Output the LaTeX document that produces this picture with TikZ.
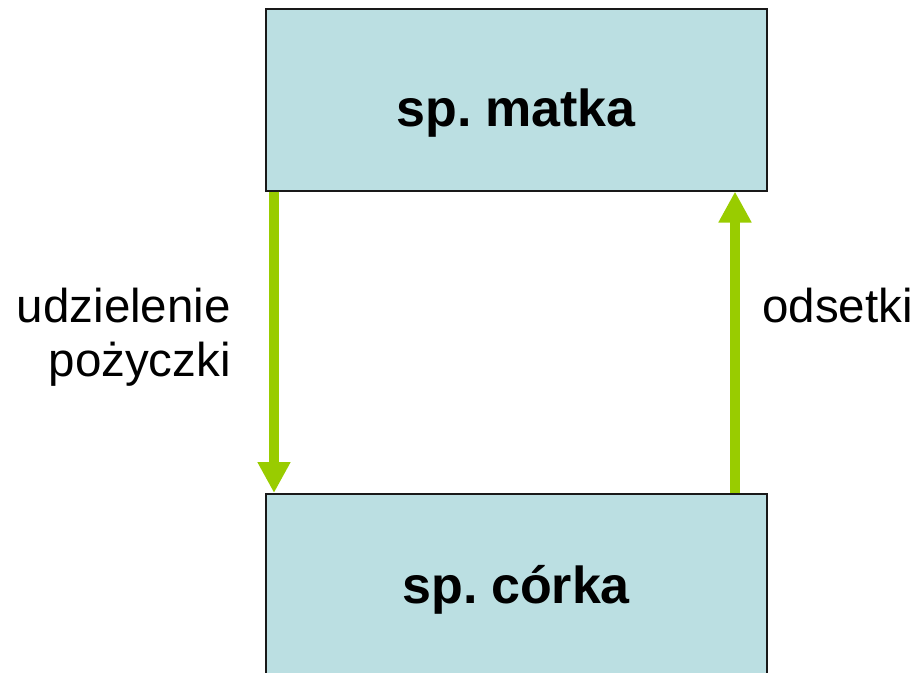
\documentclass[tikz,border=0pt]{standalone}
\usepackage{fontspec}
\setmainfont{Liberation Sans}
\usetikzlibrary{arrows.meta}
\definecolor{boxfill}{HTML}{BBDFE2}
\definecolor{arrgreen}{HTML}{99CC00}
\tikzset{
  entity/.style={draw=black!90, line width=1.5pt, fill=boxfill, minimum width=501pt, inner sep=0pt},
  flow/.style={draw=arrgreen, line width=10pt, -{Triangle[width=31pt,length=31pt]}, arrgreen},
  lbl/.style={inner sep=0pt, font=\fontsize{47.5}{54}\selectfont}
}
\begin{document}
\begin{tikzpicture}[x=1pt,y=-1pt]
\useasboundingbox (0,0) rectangle (917,672);
\clip (0,0) rectangle (917,672);
\node[entity, minimum height=182pt, anchor=north west] (matka) at (265,8) {};
\node[entity, minimum height=200pt, anchor=north west] (corka) at (265,493) {};
\node[anchor=base, inner sep=0pt, font=\fontsize{52}{60}\selectfont\bfseries] (tm) at (matka.center |- 0,126) {sp.\kern-1pt\ matka};
\node[anchor=base, inner sep=0pt, font=\fontsize{52}{60}\selectfont\bfseries] (tc) at (corka.center |- 0,603) {sp.\kern-1pt\ córka};
\coordinate (lx) at (274,0);
\coordinate (rx) at (735,0);
\draw[flow] (matka.south -| lx) -- (corka.north -| lx);
\draw[flow] (corka.north -| rx) -- (matka.south -| rx);
\node[lbl, align=right, anchor=base east] (ud) at (231,376) {udzielenie\\pożyczki};
\node[lbl, anchor=base west] (od) at (762,322) {odsetki};
\end{tikzpicture}
\end{document}
